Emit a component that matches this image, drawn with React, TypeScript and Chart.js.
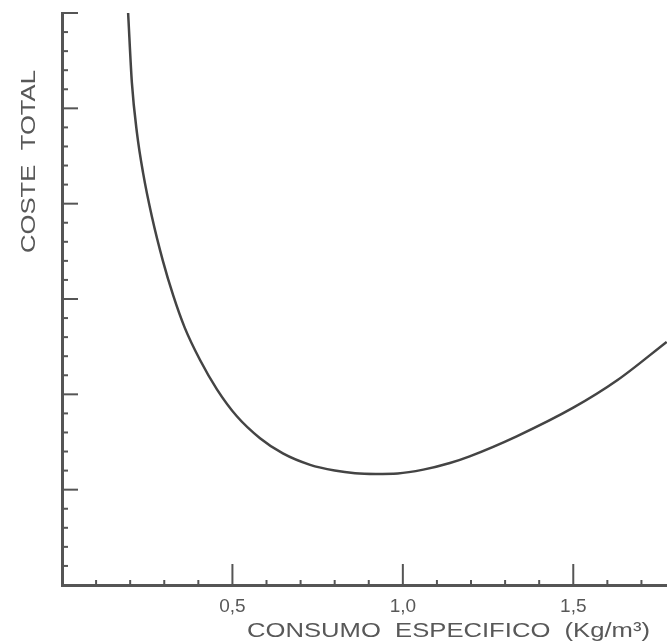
import React, { useEffect, useRef } from "react";
import { Chart, registerables } from "chart.js";

Chart.register(...registerables);

const consumo = [0.194, 0.205, 0.22, 0.238, 0.264, 0.296, 0.326, 0.36, 0.405, 0.455, 0.513, 0.581, 0.648, 0.728, 0.8, 0.86, 0.92, 0.985, 1.06, 1.138, 1.196, 1.334, 1.5, 1.63, 1.774];
const coste = [6.0, 5.27, 4.74, 4.32, 3.86, 3.4, 3.04, 2.7, 2.36, 2.05, 1.77, 1.54, 1.38, 1.26, 1.2, 1.172, 1.165, 1.17, 1.21, 1.28, 1.35, 1.56, 1.86, 2.15, 2.55];
const xTickLabels: Record<string, string> = { "5": "0,5", "10": "1,0", "15": "1,5" };
const xTitle = "CONSUMO  ESPECIFICO  (Kg/m³)";
const yTitle = "COSTE  TOTAL";

const AXIS = "#555";
const TEXT = "#585858";
const FONT = '"Liberation Sans", Arial, sans-serif';

function drawFitted(ctx: CanvasRenderingContext2D, text: string, x: number, y: number, width: number) {
  const w = ctx.measureText(text).width;
  const sx = width / w;
  ctx.save();
  ctx.translate(x, y);
  ctx.scale(sx, 1);
  ctx.textAlign = "left";
  ctx.textBaseline = "alphabetic";
  ctx.fillText(text, 0, 0);
  ctx.restore();
}

const axisPlugin = {
  id: "axisTicks",
  afterDraw(chart: any) {
    const ctx: CanvasRenderingContext2D = chart.ctx;
    const xs = chart.scales.x;
    const ys = chart.scales.y;
    const x0 = xs.getPixelForValue(0);
    const y0 = ys.getPixelForValue(0);
    ctx.save();
    ctx.strokeStyle = AXIS;
    ctx.lineWidth = 2;
    for (let i = 1; i <= 17; i++) {
      const px = xs.getPixelForValue(i / 10);
      const len = i % 5 === 0 ? 21 : 5;
      ctx.beginPath();
      ctx.moveTo(px, y0);
      ctx.lineTo(px, y0 - len);
      ctx.stroke();
    }
    for (let i = 1; i <= 30; i++) {
      const py = ys.getPixelForValue(i / 5);
      const len = i % 5 === 0 ? 16 : 6;
      ctx.beginPath();
      ctx.moveTo(x0, py);
      ctx.lineTo(x0 + len, py);
      ctx.stroke();
    }
    ctx.fillStyle = TEXT;
    ctx.font = "21px " + FONT;
    drawFitted(ctx, xTitle, 247, 637, 403);
    ctx.translate(35, 253);
    ctx.rotate(-Math.PI / 2);
    drawFitted(ctx, yTitle, 0, 0, 183);
    ctx.restore();
  },
};

export default function App() {
  const ref = useRef<HTMLCanvasElement | null>(null);
  useEffect(() => {
    if (!ref.current) return;
    const chart = new Chart(ref.current, {
      type: "scatter",
      data: {
        datasets: [
          {
            data: consumo.map((x, i) => ({ x, y: coste[i] })),
            showLine: true,
            borderColor: "#444",
            borderWidth: 2.5,
            pointRadius: 0,
            cubicInterpolationMode: "monotone",
            fill: false,
          },
        ],
      },
      options: {
        animation: false,
        responsive: false,
        maintainAspectRatio: false,
        layout: { padding: { left: 0, top: 13, right: 0, bottom: 0 } },
        plugins: { legend: { display: false }, tooltip: { enabled: false } },
        scales: {
          x: {
            type: "linear",
            min: 0,
            max: 1.775,
            afterFit: (s: any) => { s.height = 58; s.paddingRight = 0; s.paddingLeft = 0; },
            grid: { display: false, drawTicks: false },
            border: { display: true, color: AXIS, width: 3 },
            ticks: {
              stepSize: 0.1,
              autoSkip: false,
              maxRotation: 0,
              padding: 10,
              color: TEXT,
              font: { family: FONT, size: 19 },
              callback: (v: any) => xTickLabels[String(Math.round(Number(v) * 10))] || "",
            },
          },
          y: {
            type: "linear",
            min: 0,
            max: 6,
            afterFit: (s: any) => { s.width = 62; s.paddingTop = 0; s.paddingBottom = 0; },
            grid: { display: false, drawTicks: false },
            border: { display: true, color: AXIS, width: 3 },
            ticks: { display: false, stepSize: 1 },
          },
        },
      },
      plugins: [axisPlugin],
    });
    return () => chart.destroy();
  }, []);
  return (
    <div style={{ position: "fixed", left: 0, top: 0, width: 667, height: 643, background: "#fff" }}>
      <canvas ref={ref} width={667} height={643} style={{ width: 667, height: 643, display: "block" }} />
    </div>
  );
}
